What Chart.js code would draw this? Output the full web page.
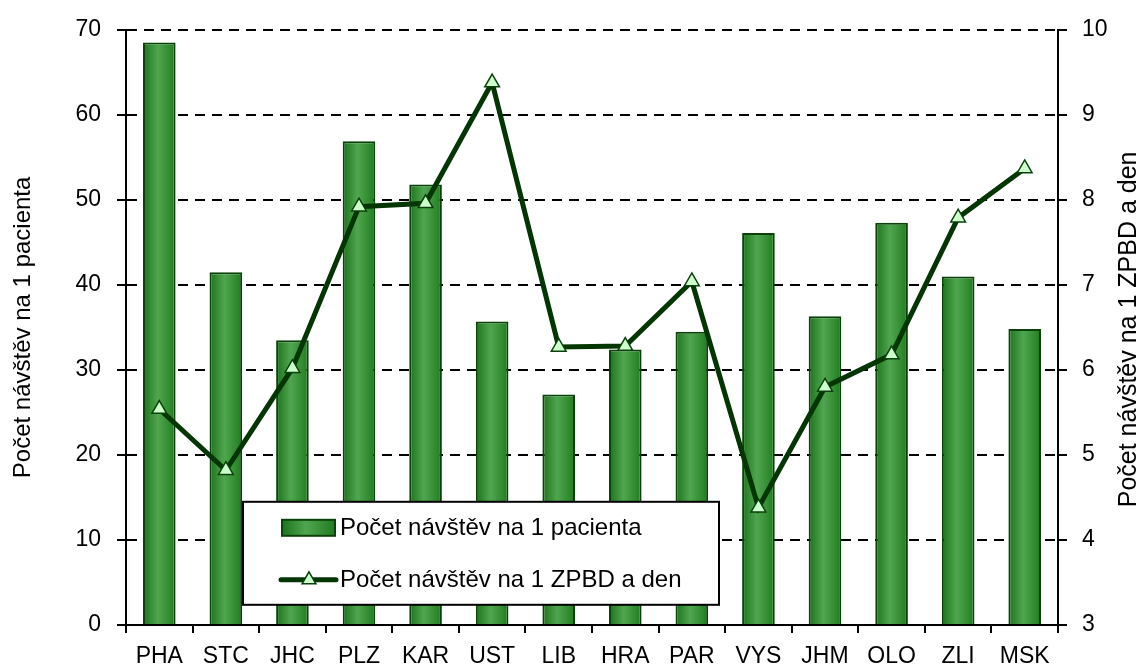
<!DOCTYPE html>
<html>
<head>
<meta charset="utf-8">
<script src="https://cdn.jsdelivr.net/npm/chart.js@4.4.1/dist/chart.umd.min.js"></script>
<style>
    html, body { margin: 0; padding: 0; background: #fff; }
    #wrap { width: 1144px; height: 670px; position: relative; }
</style>
</head>
<body>
<div id="wrap"><canvas id="dataChart"></canvas></div>
<script>
// Regions (kraje) and the two series
const regions = ['PHA', 'STC', 'JHC', 'PLZ', 'KAR', 'UST', 'LIB', 'HRA', 'PAR', 'VYS', 'JHM', 'OLO', 'ZLI', 'MSK'];
const visitsPerPatient = [68.5, 41.5, 33.5, 56.9, 51.8, 35.7, 27.1, 32.4, 34.5, 46.1, 36.3, 47.3, 41.0, 34.8];
const visitsPerBedDay = [5.54, 4.82, 6.02, 7.92, 7.96, 9.38, 6.27, 6.28, 7.04, 4.38, 5.80, 6.18, 7.79, 8.37];
const barLabel = 'Počet návštěv na 1 pacienta';
const lineLabel = 'Počet návštěv na 1 ZPBD a den';
// axis ranges
const leftMin = 0, leftMax = 70, leftStep = 10;
const rightMin = 3, rightMax = 10, rightStep = 1;

const FONT = "'Liberation Sans', Arial, sans-serif";
const BAR_PCT = 0.49;
const DARK = '#0a420a';
const LINE = '#043604';

// horizontal gradient for the bar body
function barGradient(ctx, x0, x1) {
    let g = ctx.createLinearGradient(x0, 0, x1, 0);
    g.addColorStop(0, '#1b731b');
    g.addColorStop(0.45, '#50a650');
    g.addColorStop(1, '#207c1e');
    return g;
}

function barFill(context) {
    let chart = context.chart;
    let xScale = chart.scales.x;
    if (!xScale || context.type !== 'data') return '#3c963c';
    let cx = xScale.getPixelForValue(context.dataIndex);
    let w = xScale.width / regions.length * BAR_PCT;
    if (!isFinite(cx) || !isFinite(w) || w <= 0) return '#3c963c';
    return barGradient(chart.ctx, cx - w / 2, cx + w / 2);
}

// legend box drawn inside the plot, plus the right axis title (reads bottom-up)
const extrasPlugin = {
    id: 'extras',
    afterDraw(chart) {
        const ctx = chart.ctx;
        const area = chart.chartArea;
        const ds = chart.data.datasets;
        // right title
        ctx.save();
        ctx.font = '25px ' + FONT;
        ctx.fillStyle = '#000';
        ctx.textAlign = 'center';
        ctx.textBaseline = 'middle';
        ctx.translate(1129, (area.top + area.bottom) / 2 + 2);
        ctx.rotate(-Math.PI / 2);
        ctx.fillText(lineLabel, 0, 0);
        ctx.restore();

        // legend
        let bx = area.left + 117, by = area.top + 472, bw = 476, bh = 103;
        ctx.save();
        ctx.fillStyle = '#fff';
        ctx.fillRect(bx, by, bw, bh);
        ctx.lineWidth = 2;
        ctx.strokeStyle = '#000';
        ctx.strokeRect(bx, by, bw, bh);

        // bar sample
        let sx = bx + 39, sw = 53;
        let y1 = by + 26;
        ctx.fillStyle = barGradient(ctx, sx, sx + sw);
        ctx.fillRect(sx, y1 - 8, sw, 16);
        ctx.lineWidth = 2;
        ctx.strokeStyle = DARK;
        ctx.strokeRect(sx, y1 - 8, sw, 16);

        // line sample
        let y2 = by + 78;
        ctx.beginPath();
        ctx.moveTo(sx - 1, y2);
        ctx.lineTo(sx + sw + 1, y2);
        ctx.lineWidth = 5;
        ctx.strokeStyle = LINE;
        ctx.lineCap = 'round';
        ctx.stroke();
        ctx.fillStyle = '#ccffcc';
        ctx.strokeStyle = DARK;
        ctx.lineWidth = 1.5;
        ctx.beginPath();
        let r = 8, cx = sx + 27;
        ctx.moveTo(cx, y2 - r);
        ctx.lineTo(cx + r * 0.866, y2 + r * 0.5);
        ctx.lineTo(cx - r * 0.866, y2 + r * 0.5);
        ctx.closePath();
        ctx.fill();
        ctx.stroke();

        ctx.fillStyle = '#000';
        ctx.font = '24px ' + FONT;
        ctx.textAlign = 'left';
        ctx.textBaseline = 'middle';
        ctx.fillText(ds[1].label, sx + sw + 5, y1 + 1);
        ctx.fillText(ds[0].label, sx + sw + 5, y2 + 1);
        ctx.restore();
    }
};

let mychart = document.getElementById('dataChart').getContext('2d');
let massChart = new Chart(mychart, {
    type: 'bar',
    data: {
        labels: regions,
        datasets: [
            {
                type: 'line',
                label: lineLabel,
                data: visitsPerBedDay,
                yAxisID: 'y1',
                order: 1,
                borderColor: LINE,
                borderWidth: 5,
                pointStyle: 'triangle',
                pointRadius: 8.5,
                pointBackgroundColor: '#ccffcc',
                pointBorderColor: DARK,
                pointBorderWidth: 1.5,
                tension: 0
            },
            {
                type: 'bar',
                label: barLabel,
                data: visitsPerPatient,
                yAxisID: 'y',
                order: 2,
                backgroundColor: barFill,
                borderColor: DARK,
                borderWidth: 2,
                barPercentage: BAR_PCT,
                categoryPercentage: 1
            }
        ]
    },
    plugins: [extrasPlugin],
    options: {
        responsive: true,
        maintainAspectRatio: false,
        animation: false,
        layout: { padding: { top: 25, left: 0, right: 0, bottom: 0 } },
        plugins: {
            legend: { display: false },
            tooltip: { enabled: false }
        },
        scales: {
            x: {
                afterFit: function (scale) { scale.height = 45; },
                grid: {
                    offset: true,
                    drawOnChartArea: false,
                    color: '#000',
                    lineWidth: 2,
                    tickLength: 8
                },
                border: { color: '#000', width: 2 },
                ticks: {
                    color: '#000',
                    font: { family: FONT, size: 23 },
                    padding: 10,
                    maxRotation: 0
                }
            },
            y: {
                position: 'left',
                min: leftMin,
                max: leftMax,
                afterFit: function (scale) { scale.width = 126; },
                grid: {
                    color: '#000',
                    lineWidth: 2,
                    tickLength: 9,
                    tickColor: '#000',
                    tickWidth: 2
                },
                border: { color: '#000', width: 2, dash: [10, 7] },
                ticks: {
                    stepSize: leftStep,
                    color: '#000',
                    font: { family: FONT, size: 23 },
                    padding: 16
                },
                title: {
                    display: true,
                    text: barLabel,
                    color: '#000',
                    font: { family: FONT, size: 24 },
                    padding: { top: 9, bottom: 0 }
                }
            },
            y1: {
                position: 'right',
                min: rightMin,
                max: rightMax,
                afterFit: function (scale) { scale.width = 86; },
                grid: {
                    drawOnChartArea: false,
                    color: '#000',
                    lineWidth: 2,
                    tickLength: 9
                },
                border: { color: '#000', width: 2 },
                ticks: {
                    stepSize: rightStep,
                    color: '#000',
                    font: { family: FONT, size: 23 },
                    padding: 15
                }
            }
        }
    }
});
</script>
</body>
</html>
